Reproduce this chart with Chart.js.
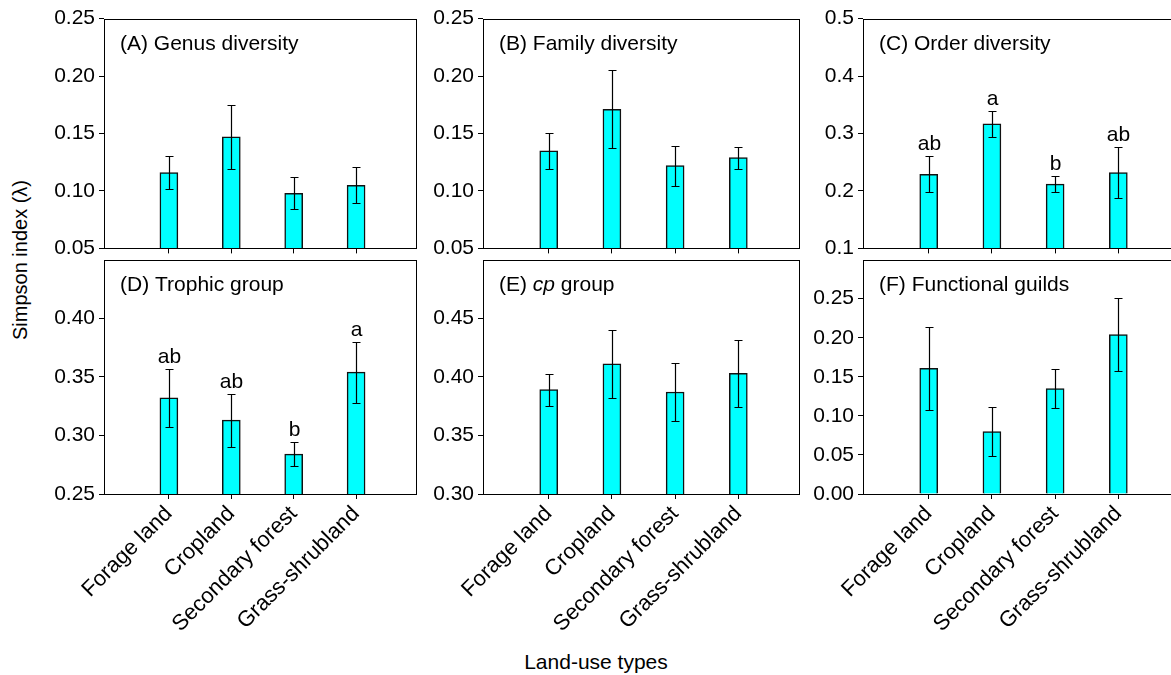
<!DOCTYPE html>
<html><head><meta charset="utf-8">
<script src="https://cdn.jsdelivr.net/npm/chart.js@4/dist/chart.umd.min.js"></script>
<style>
html,body{margin:0;padding:0;background:#fff;width:1171px;height:675px;overflow:hidden;position:relative;font-family:"Liberation Sans",Arial,sans-serif;color:#000;}
canvas{position:absolute;}
.ytitle{position:absolute;left:20px;top:260px;transform:translate(-50%,-50%) rotate(-90deg);white-space:nowrap;font-size:20px;}
.xtitle{position:absolute;left:596px;top:662px;transform:translate(-50%,-50%);white-space:nowrap;font-size:21px;}
</style></head>
<body>
<div class="ytitle">Simpson index (λ)</div>
<div class="xtitle">Land-use types</div>
<canvas id="cA"></canvas><canvas id="cB"></canvas><canvas id="cC"></canvas>
<canvas id="cD"></canvas><canvas id="cE"></canvas><canvas id="cF"></canvas>
<script>
// ---- data ----
const categories = ['Forage land', 'Cropland', 'Secondary forest', 'Grass-shrubland'];

const genusMean = [0.116, 0.147, 0.098, 0.105];
const genusSE   = [0.014, 0.028, 0.014, 0.0155];
const genusTicks = [0.05, 0.10, 0.15, 0.20, 0.25];

const familyMean = [0.135, 0.171, 0.122, 0.129];
const familySE   = [0.0155, 0.034, 0.0175, 0.0095];
const familyTicks = [0.05, 0.10, 0.15, 0.20, 0.25];

const orderMean = [0.229, 0.317, 0.212, 0.232];
const orderSE   = [0.031, 0.023, 0.014, 0.044];
const orderLetters = ['ab', 'a', 'b', 'ab'];
const orderTicks = [0.1, 0.2, 0.3, 0.4, 0.5];

const trophicMean = [0.332, 0.313, 0.284, 0.354];
const trophicSE   = [0.025, 0.0225, 0.0105, 0.026];
const trophicLetters = ['ab', 'ab', 'b', 'a'];
const trophicTicks = [0.25, 0.30, 0.35, 0.40];

const cpMean = [0.389, 0.411, 0.387, 0.403];
const cpSE   = [0.0136, 0.029, 0.0245, 0.0285];
const cpTicks = [0.30, 0.35, 0.40, 0.45];

const guildMean = [0.161, 0.080, 0.135, 0.204];
const guildSE   = [0.053, 0.031, 0.0246, 0.0465];
const guildTicks = [0.00, 0.05, 0.10, 0.15, 0.20, 0.25];

// ---- layout ----
const FONT = '"Liberation Sans", Arial, sans-serif';
const YW = 62, PT = 14, PR = 4, XH_TOP = 8, XH_BOT = 150;

const panels = [
  {id:'cA', title:[{t:'(A) Genus diversity'}], mean:genusMean, se:genusSE, letters:null, yMin:0.05, yMax:0.25, ticks:genusTicks, dec:2, L:104, R:416, T:16, B:257, bottomRow:false},
  {id:'cB', title:[{t:'(B) Family diversity'}], mean:familyMean, se:familySE, letters:null, yMin:0.05, yMax:0.25, ticks:familyTicks, dec:2, L:483, R:799, T:16, B:257, bottomRow:false},
  {id:'cC', title:[{t:'(C) Order diversity'}], mean:orderMean, se:orderSE, letters:orderLetters, yMin:0.1, yMax:0.5, ticks:orderTicks, dec:1, L:863, R:1179, T:16, B:257, bottomRow:false},
  {id:'cD', title:[{t:'(D) Trophic group'}], mean:trophicMean, se:trophicSE, letters:trophicLetters, yMin:0.25, yMax:0.45, ticks:trophicTicks, dec:2, L:104, R:416, T:257, B:494, bottomRow:true},
  {id:'cE', title:[{t:'(E) '},{t:'cp',italic:true},{t:' group'}], mean:cpMean, se:cpSE, letters:null, yMin:0.30, yMax:0.50, ticks:cpTicks, dec:2, L:483, R:799, T:257, B:494, bottomRow:true},
  {id:'cF', title:[{t:'(F) Functional guilds'}], mean:guildMean, se:guildSE, letters:null, yMin:0.0, yMax:0.30, ticks:guildTicks, dec:2, L:863, R:1179, T:257, B:494, bottomRow:true}
];

const overlayPlugin = {
  id: 'overlay',
  afterDatasetsDraw(chart, args, opts) {
    const p = opts.panel;
    const ctx = chart.ctx;
    const xs = chart.scales.x, ys = chart.scales.y;
    const ca = chart.chartArea;
    ctx.save();
    ctx.strokeStyle = '#000';
    ctx.lineWidth = 1.2;
    p.mean.forEach((m, i) => {
      const x = Math.round(xs.getPixelForValue(i + 1)) + 0.5;
      const yt = Math.round(ys.getPixelForValue(m + p.se[i])) + 0.5;
      const yb = Math.round(ys.getPixelForValue(m - p.se[i])) + 0.5;
      ctx.beginPath();
      ctx.moveTo(x, yt); ctx.lineTo(x, yb);
      ctx.moveTo(x - 4, yt); ctx.lineTo(x + 4, yt);
      ctx.moveTo(x - 4, yb); ctx.lineTo(x + 4, yb);
      ctx.stroke();
      if (p.letters) {
        ctx.fillStyle = '#000';
        ctx.font = '21px ' + FONT;
        ctx.textAlign = 'center';
        ctx.textBaseline = 'alphabetic';
        ctx.fillText(p.letters[i], x, yt - 7);
      }
    });
    ctx.lineWidth = 1;
    const l = Math.round(ca.left) + 0.5, t = Math.round(ca.top) + 0.5;
    const r = Math.round(ca.right) + 0.5, b = Math.round(ca.bottom) + 0.5;
    ctx.strokeRect(l, t, r - l, b - t);
    let tx = ca.left + 16;
    const ty = ca.top + 31;
    ctx.fillStyle = '#000';
    ctx.textAlign = 'left';
    ctx.textBaseline = 'alphabetic';
    p.title.forEach(seg => {
      ctx.font = (seg.italic ? 'italic ' : '') + '21px ' + FONT;
      ctx.fillText(seg.t, tx, ty);
      tx += ctx.measureText(seg.t).width;
    });
    ctx.restore();
  }
};

panels.forEach(p => {
  const cv = document.getElementById(p.id);
  const xh = p.bottomRow ? XH_BOT : XH_TOP;
  const w = YW + (p.R - p.L) + PR;
  const h = PT + (p.B - p.T) + xh;
  cv.width = w; cv.height = h;
  cv.style.width = w + 'px'; cv.style.height = h + 'px';
  cv.style.left = (p.L - YW) + 'px';
  cv.style.top = (p.T - PT) + 'px';

  new Chart(cv, {
    type: 'bar',
    data: {
      datasets: [{
        data: p.mean.map((v, i) => ({x: i + 1, y: v})),
        backgroundColor: '#00FFFF',
        borderColor: '#111',
        borderWidth: 1.5,
        barThickness: 18
      }]
    },
    options: {
      responsive: false,
      animation: false,
      devicePixelRatio: 1,
      layout: {padding: {top: PT, right: PR, left: 0, bottom: 0}},
      plugins: {legend: {display: false}, tooltip: {enabled: false}, overlay: {panel: p}},
      scales: {
        x: {
          type: 'linear', min: -0.04, max: 4.96, offset: false,
          afterBuildTicks: s => { s.ticks = categories.map((c, i) => ({value: i + 1})); },
          afterFit: s => { s.height = xh; },
          grid: {display: true, offset: false, drawOnChartArea: false, drawTicks: true, tickLength: 5, color: '#000'},
          border: {display: false},
          ticks: {
            display: p.bottomRow, autoSkip: false, maxRotation: 45, minRotation: 45, padding: 2,
            color: '#000', font: {family: FONT, size: 22},
            callback: v => categories[v - 1] || ''
          }
        },
        y: {
          type: 'linear', min: p.yMin, max: p.yMax,
          afterBuildTicks: s => { s.ticks = p.ticks.map(v => ({value: v})); },
          afterFit: s => { s.width = YW; },
          grid: {display: true, drawOnChartArea: false, drawTicks: true, tickLength: 5, color: '#000'},
          border: {display: false},
          ticks: {color: '#000', padding: 4, font: {family: FONT, size: 21}, callback: v => Number(v).toFixed(p.dec)}
        }
      }
    },
    plugins: [overlayPlugin]
  });
});
</script>
</body></html>
